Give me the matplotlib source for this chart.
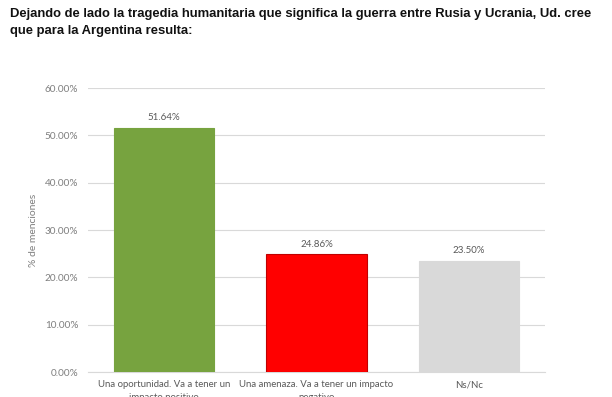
import matplotlib
matplotlib.use("Agg")
import matplotlib.pyplot as plt
from matplotlib.ticker import FuncFormatter

categories = ["Una oportunidad. Va a tener un\nimpacto positivo",
              "Una amenaza. Va a tener un impacto\nnegativo",
              "Ns/Nc"]
values = [51.64, 24.86, 23.50]
colors = ["#77A33F", "#FF0000", "#D9D9D9"]
edgecolors = ["#77A33F", "#C00000", "#D9D9D9"]
yticks = [0, 10, 20, 30, 40, 50, 60]

title = ("Dejando de lado la tragedia humanitaria que significa la guerra entre Rusia y Ucrania, Ud. cree\n"
         "que para la Argentina resulta:")

fig = plt.figure(figsize=(6.12, 3.97), dpi=100)
ax = fig.add_axes([88/612, 25/397, (545-88)/612, (372-88)/397])

x = list(range(len(categories)))
bars = ax.bar(x, values, width=0.66, color=colors, edgecolor=edgecolors, linewidth=0.8, zorder=3)
for xi, v in zip(x, values):
    ax.text(xi, v + 1.2, f"{v:.2f}%", ha="center", va="bottom", fontsize=7,
            color="#595959", family="Lato")

ax.set_xlim(-0.5, 2.5)
ax.set_ylim(0, 60)
ax.set_yticks(yticks)
ax.yaxis.set_major_formatter(FuncFormatter(lambda v, p: f"{v:.2f}%"))
ax.set_xticks(x)
ax.set_xticklabels(categories, fontsize=6.9, color="#595959", family="Lato", linespacing=1.5)
for lab in ax.get_yticklabels():
    lab.set_fontsize(7.2)
    lab.set_color("#7F7F7F")
    lab.set_family("Lato")
ax.tick_params(axis="both", length=0)
ax.tick_params(axis="y", pad=7)
ax.tick_params(axis="x", pad=6)
ax.grid(axis="y", color="#D9D9D9", linewidth=0.8, zorder=0)
for s in ["top", "right", "left"]:
    ax.spines[s].set_visible(False)
ax.spines["bottom"].set_color("#D9D9D9")
ax.set_ylabel("% de menciones", fontsize=7.5, color="#7F7F7F", family="Lato")
ax.yaxis.set_label_coords((38 - 88) / 457, 0.5)

fig.text(10/612, 1 - 8/397, title, ha="left", va="top", fontsize=9.4, fontweight="bold",
         family="Liberation Sans", color="#111111", linespacing=1.6)

fig.savefig("out.png", dpi=100)
